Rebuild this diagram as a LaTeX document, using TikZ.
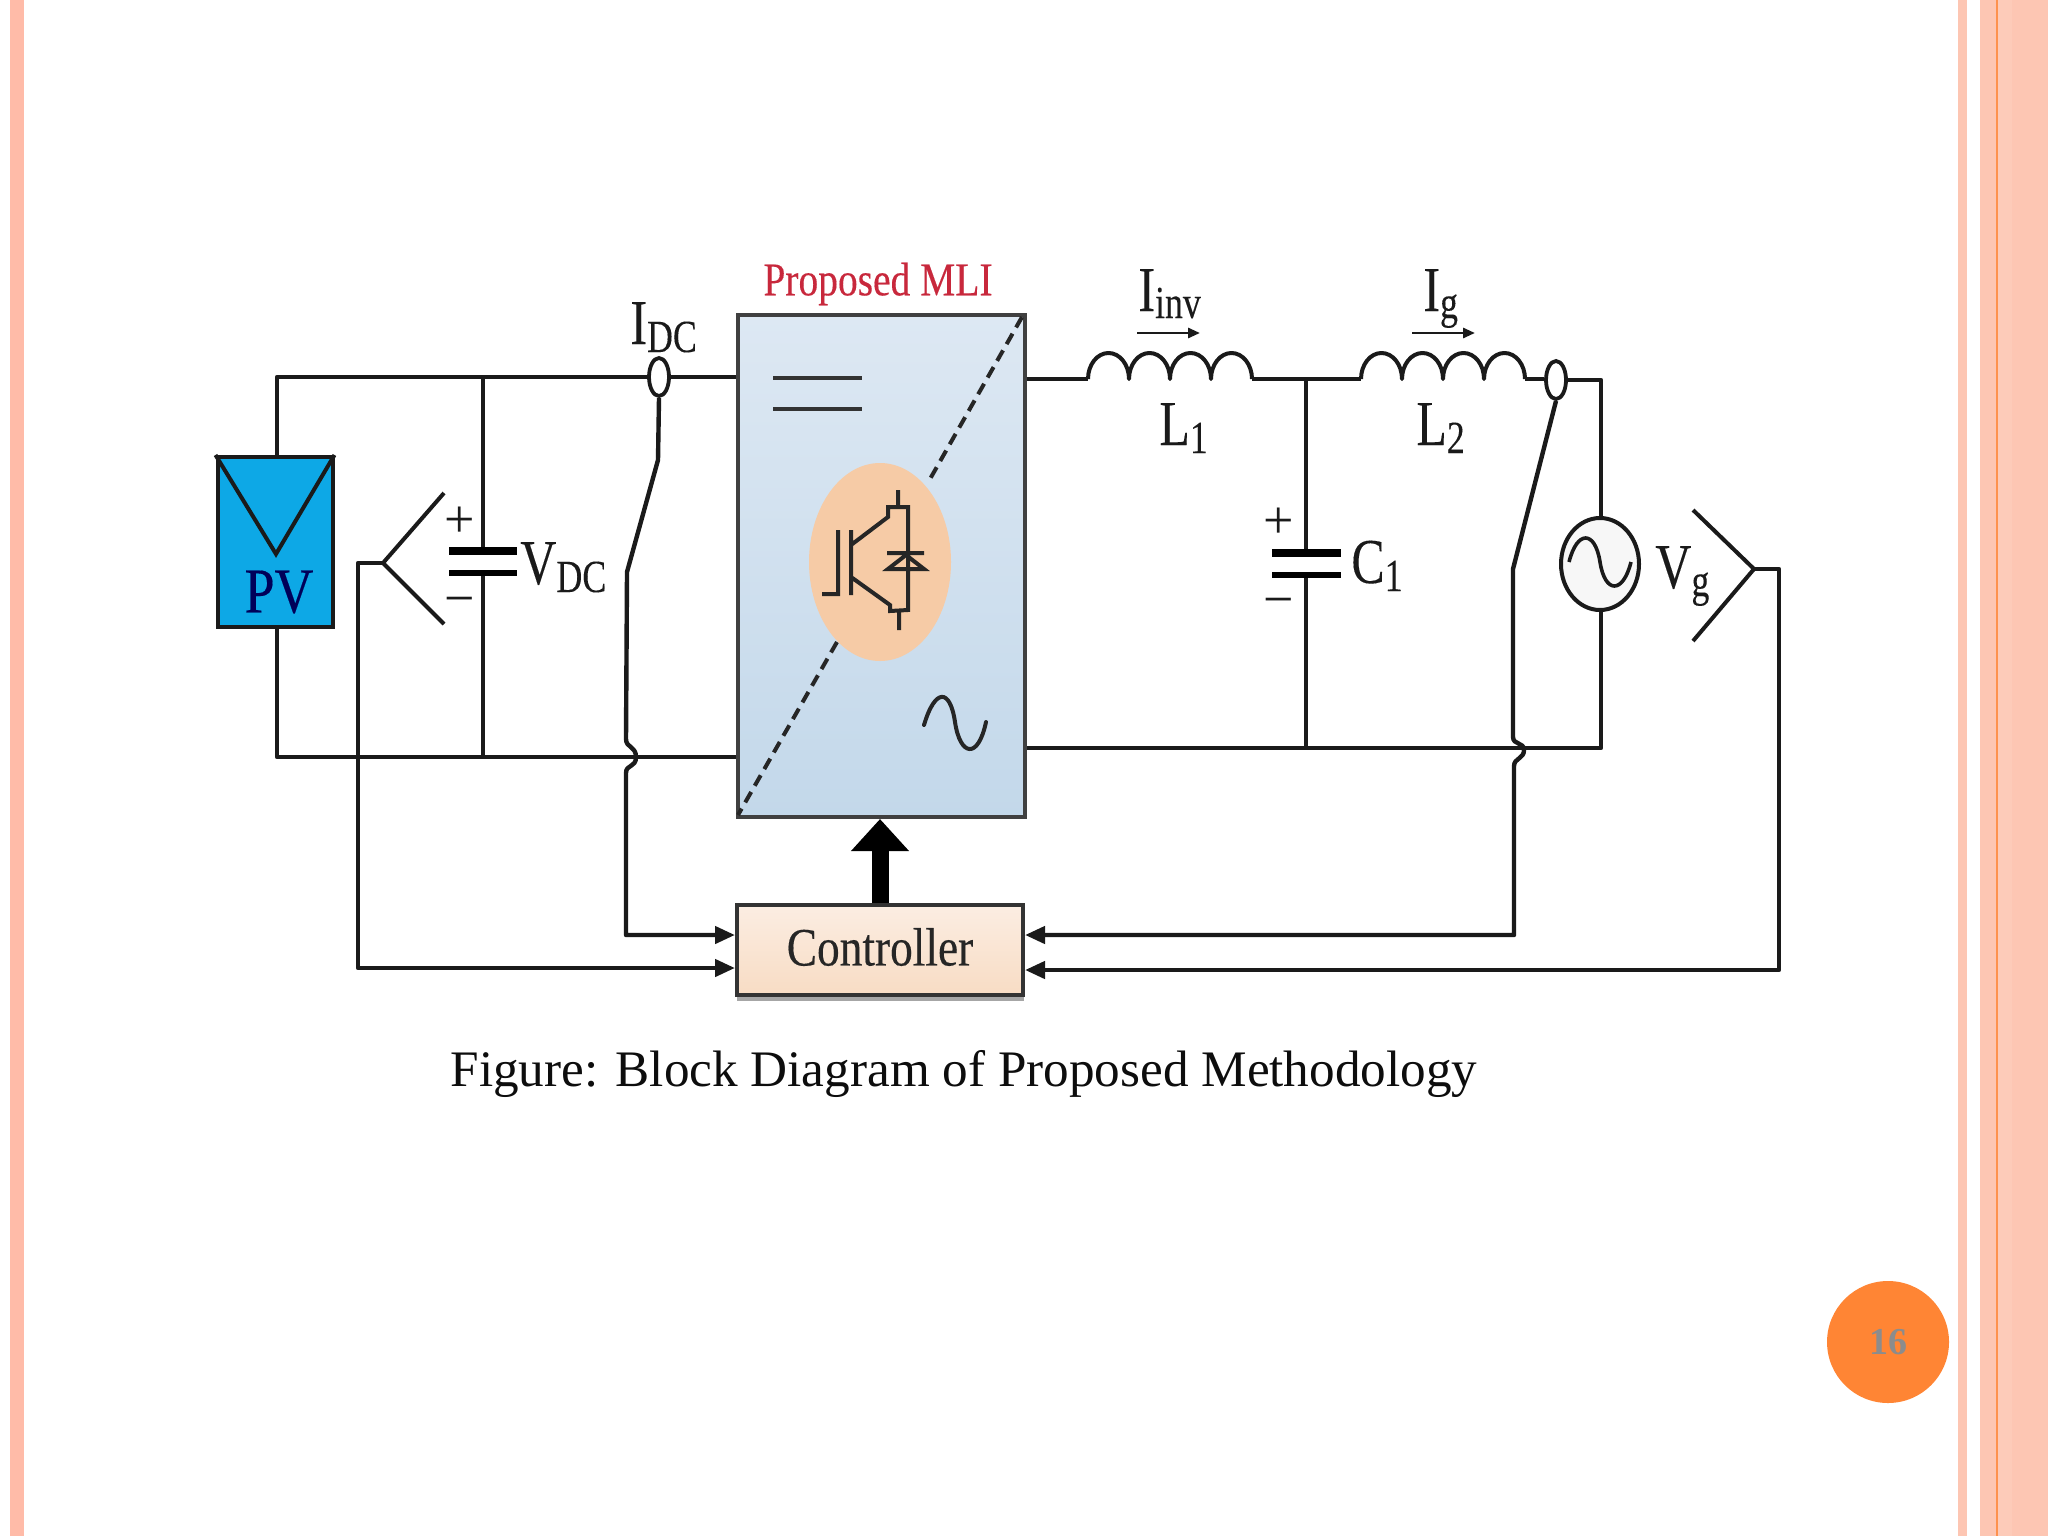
\documentclass[tikz,border=0pt]{standalone}
\usepackage{fontspec}
\setmainfont{Liberation Serif}
\newfontfamily\narrowserif[FakeStretch=0.78,FakeBold=0.15]{Liberation Serif}
\newfontfamily\midserif[FakeStretch=0.84,FakeBold=0.25]{Liberation Serif}
\usetikzlibrary{arrows.meta,shapes.geometric}
\definecolor{stripeA}{HTML}{FFBBA8}
\definecolor{stripeB}{HTML}{FDC6B3}
\definecolor{stripeC}{HTML}{FDCBB9}
\definecolor{stripeD}{HTML}{FF8534}
\definecolor{pvblue}{HTML}{0DA8E6}
\definecolor{wirecol}{HTML}{1A1A1A}
\definecolor{mlired}{HTML}{C8283C}
\definecolor{mlitop}{HTML}{DDE8F3}
\definecolor{mlibot}{HTML}{C3D8EA}
\definecolor{bubcol}{HTML}{F6CBA6}
\definecolor{ctrltop}{HTML}{FBEDE2}
\definecolor{ctrlbot}{HTML}{F8DCC4}
\newcommand{\ckt}[3]{{\narrowserif\fontsize{32}{36}\selectfont #1\raisebox{#3}{\fontsize{23}{24}\selectfont #2}}}
\tikzset{
  x=0.5pt,y=-0.5pt,
  wire/.style={draw=wirecol,line width=2.2pt,line join=round},
  thinwire/.style={draw=wirecol,line width=2pt,line join=round},
  sig/.style={wire,-{Triangle[length=10pt,width=8.5pt]}},
  label/.style={anchor=base west,inner sep=0pt,text=wirecol},
  sensor/.style={ellipse,draw=wirecol,line width=1.9pt,fill=white,inner sep=0pt,minimum width=10pt,minimum height=19pt},
  plate/.style={draw=black,line cap=butt},
  sign/.style={inner sep=0pt,text=wirecol,font=\fontsize{27}{27}\selectfont}
}
\begin{document}
\begin{tikzpicture}
\useasboundingbox (0,0) rectangle (2048,1536);
\fill[white] (0,0) rectangle (2048,1536);
% slide decoration
\fill[stripeA] (10,0) rectangle (24,1536);
\fill[stripeB] (1958,0) rectangle (1967,1536);
\fill[stripeB] (1980,0) rectangle (1996,1536);
\fill[stripeC] (1997,0) rectangle (2048,1536);
\fill[stripeB] (2012,0) rectangle (2048,1536);
\fill[stripeD!80!stripeB] (1996,0) rectangle (1997.5,1536);
\node[circle,fill=stripeD,minimum size=61pt,inner sep=0pt,text=black!45,font=\fontsize{19}{20}\selectfont\bfseries] (page) at (1888,1342) {16};
% blocks
\node[draw=wirecol,line width=2pt,fill=pvblue,minimum width=57.5pt,minimum height=85pt,inner sep=0pt] (pv) at (275,542) {};
\node[draw=black!75,line width=2pt,top color=mlitop,bottom color=mlibot,minimum width=143.5pt,minimum height=251pt,inner sep=0pt] (mli) at (881,566) {};
\fill[black!35] (737,992) rectangle (1024,1001);
\node[draw=black!80,line width=2pt,top color=ctrltop,bottom color=ctrlbot,minimum width=143pt,minimum height=45pt,inner sep=0pt] (ctrl) at (880,950) {};
\node[inner sep=0pt,text=black!85,font=\midserif\fontsize{27}{30}\selectfont] (ctrlt) at (880,947) {Controller};
\node[inner sep=0pt,text=mlired,font=\midserif\fontsize{23.5}{28}\selectfont] (mlit) at (878,284) {Proposed MLI};
% PV symbol
\coordinate (pvv) at (276,554);
\draw[wirecol,line width=2pt,line join=miter] (pv.north west) -- (pvv) -- (pv.north east);
\node[inner sep=0pt,text=blue!35!black,font=\midserif\fontsize{32}{32}\selectfont] (pvt) at (279,592) {PV};
% sensors and source
\node[sensor] (idc) at (659,377) {};
\node[sensor] (isn) at (1556,380) {};
\node[ellipse,draw=wirecol,line width=2pt,fill=black!3,minimum width=39pt,minimum height=46pt,inner sep=0pt] (ac) at (1600,564) {};
\draw[wirecol,line width=1.8pt] (1569,562) .. controls (1577,530) and (1595,530) .. (1600,562) .. controls (1605,594) and (1623,594) .. (1631,562);
% DC side
\coordinate (dctl) at (277,377);
\coordinate (dcbl) at (277,757);
\coordinate (capt) at (483,377);
\coordinate (capb) at (483,757);
\coordinate (c1p) at (483,551);
\coordinate (c1n) at (483,573);
\draw[wire] (pv.north -| dctl) -- (dctl) -- (idc.west);
\draw[wire] (idc.east) -- (mli.west |- idc);
\draw[wire] (pv.south -| dcbl) -- (dcbl) -- (mli.west |- dcbl);
\draw[wire] (capt) -- (c1p);
\draw[wire] (c1n) -- (capb);
\draw[plate,line width=3.6pt] (449,551) -- (517,551);
\draw[plate,line width=2.8pt] (449,573) -- (517,573);
\node[sign] (dcplus) at (460,522) {+};
\node[sign] (dcminus) at (460,607) {−};
\node[label] (vdc) at (520,584) {\ckt{V}{DC}{-4pt}};
\node[label] (idct) at (630,344) {\ckt{I}{DC}{-4pt}};
% DC voltage sensing
\coordinate (fa) at (383,563);
\coordinate (fb) at (444,493);
\coordinate (fc) at (444,624);
\coordinate (fd) at (358,563);
\draw[thinwire] (fb) -- (fa) -- (fc);
\draw[sig] (fa) -- (fd) -- (358,968) -- (ctrl.west |- 358,968);
% DC current sensing
\draw[sig] (idc.south) -- (658,460) -- (627,572) -- (626,739)
  .. controls (626,748) and (636,746) .. (636,757)
  .. controls (636,768) and (626,764) .. (626,773)
  -- (626,935) -- (ctrl.west |- 626,935);
% MLI symbols
\draw[draw=black!80,line width=1.9pt] (773,378) -- (862,378);
\draw[draw=black!80,line width=1.9pt] (773,409) -- (862,409);
\coordinate (dga) at (1022,317);
\coordinate (dgb) at (930,479);
\coordinate (dgc) at (837,642);
\coordinate (dgd) at (738,815);
\draw[draw=black!85,line width=2pt,dash pattern=on 6pt off 3.6pt] (dga) -- (dgb);
\draw[draw=black!85,line width=2pt,dash pattern=on 6pt off 3.6pt] (dgc) -- (dgd);
\node[ellipse,fill=bubcol,minimum width=71pt,minimum height=99pt,inner sep=0pt] (bub) at (880,562) {};
\draw[draw=black!85,line width=2pt,line join=miter]
  (822,594) -- (838,594) -- (838,530)
  (851,530) -- (851,595)
  (851,545) -- (888,517) -- (888,507) -- (908,507) -- (908,610) -- (890,611) -- (890,605) -- (851,577)
  (898,507) -- (898,490)
  (899,611) -- (899,630)
  (887,553) -- (924,553)
  (888,569) -- (924,569) -- (906,555) -- cycle;
\draw[draw=black!85,line width=2pt,line cap=round] (924,725) .. controls (935,688) and (950,688) .. (955,722) .. controls (960,756) and (978,760) .. (986,722);
% control arrow
\draw[line width=8.5pt,-{Triangle[length=16pt,width=28pt]}] (ctrl.north) -- (ctrl.north |- mli.south);
% AC side
\coordinate (li1) at (1088,379);
\coordinate (lo1) at (1252,379);
\coordinate (li2) at (1361,379);
\coordinate (lo2) at (1525,379);
\coordinate (nd) at (1306,379);
\coordinate (acr) at (1601,380);
\coordinate (acb) at (1601,748);
\coordinate (ndb) at (1306,748);
\draw[wire] (mli.east |- li1) -- (li1);
\draw[wire] (lo1) -- (li2);
\draw[wire] (lo2) -- (isn.west |- lo2);
\draw[wire] (isn.east) -- (acr) -- (ac.north -| acr);
\draw[wire] (ac.south -| acb) -- (acb) -- (mli.east |- acb);
\draw[thinwire] (li1)
  arc[start angle=180,end angle=0,x radius=10.25pt,y radius=13pt]
  arc[start angle=180,end angle=0,x radius=10.25pt,y radius=13pt]
  arc[start angle=180,end angle=0,x radius=10.25pt,y radius=13pt]
  arc[start angle=180,end angle=0,x radius=10.25pt,y radius=13pt];
\draw[thinwire] (li2)
  arc[start angle=180,end angle=0,x radius=10.25pt,y radius=13pt]
  arc[start angle=180,end angle=0,x radius=10.25pt,y radius=13pt]
  arc[start angle=180,end angle=0,x radius=10.25pt,y radius=13pt]
  arc[start angle=180,end angle=0,x radius=10.25pt,y radius=13pt];
\draw[wire] (nd) -- (1306,553);
\draw[wire] (1306,575) -- (ndb);
\draw[plate,line width=3.6pt] (1272,553) -- (1341,553);
\draw[plate,line width=2.8pt] (1272,575) -- (1341,575);
\node[sign] (acplus) at (1279,523) {+};
\node[sign] (acminus) at (1279,608) {−};
\node[label] (c1t) at (1351,583) {\ckt{C}{1}{-4pt}};
\node[label] (l1t) at (1159,445) {\ckt{L}{1}{-4pt}};
\node[label] (l2t) at (1416,445) {\ckt{L}{2}{-4pt}};
\node[label] (iinv) at (1138,311) {\ckt{I}{inv}{-3.5pt}};
\node[label] (igt) at (1423,311) {\ckt{I}{g}{-3.5pt}};
\node[label] (vgt) at (1655,588) {\ckt{V}{g}{-4pt}};
\coordinate (aia) at (1137,333);
\coordinate (aib) at (1200,333);
\coordinate (aga) at (1412,333);
\coordinate (agb) at (1475,333);
\draw[thinwire,line width=1.4pt,-{Triangle[length=6pt,width=5pt]}] (aia) -- (aib);
\draw[thinwire,line width=1.4pt,-{Triangle[length=6pt,width=5pt]}] (aga) -- (agb);
% grid current sensing
\draw[sig] (isn.south) -- (1513,569) -- (1513,737)
  .. controls (1513,745) and (1524,742) .. (1524,750)
  .. controls (1524,759) and (1514,758) .. (1514,766)
  -- (1514,935) -- (ctrl.east |- 1514,935);
% grid voltage sensing
\coordinate (ga) at (1754,569);
\coordinate (gb) at (1693,510);
\coordinate (gc) at (1693,641);
\coordinate (gd) at (1779,569);
\draw[thinwire] (gb) -- (ga) -- (gc);
\draw[sig] (ga) -- (gd) -- (1779,970) -- (ctrl.east |- 1779,970);
% caption
\node[anchor=base,inner sep=0pt,text=black!95,font=\fontsize{25.6}{30}\selectfont] (cap) at (964,1086) {Figure: Block Diagram of Proposed Methodology};
\end{tikzpicture}
\end{document}
